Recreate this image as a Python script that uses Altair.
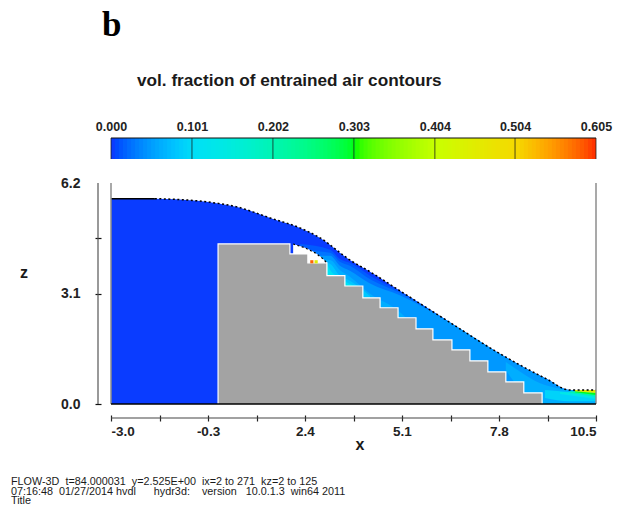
import altair as alt
import pandas as pd

FONT = "Liberation Sans"

# free surface of the flow
surface_x = [-3.0, -1.78, -0.61, 0.03, 0.51, 0.95, 1.43, 2.26, 2.82, 3.65, 4.21, 5.13, 6.43, 7.74, 9.13, 9.77, 10.5]
surface_z = [5.76, 5.76, 5.70, 5.62, 5.53, 5.39, 5.22, 4.94, 4.66, 4.04, 3.71, 3.12, 2.29, 1.46, 0.70, 0.39, 0.39]

# stepped chute (solid obstacle)
bed_x = [-0.02, 1.98, 2.48, 3.01, 3.51, 4.01, 4.49, 4.99, 5.49, 5.96, 6.49, 6.99, 7.49, 7.99, 8.49, 9.0]
bed_z = [4.49, 4.21, 3.96, 3.60, 3.31, 2.98, 2.70, 2.42, 2.11, 1.80, 1.52, 1.21, 0.90, 0.62, 0.31, 0.0]

# underside of the nappe over the first steps
nappe_x = [2.07, 2.40, 2.68, 2.87, 3.01]
nappe_z = [4.49, 4.38, 4.24, 4.10, 3.96]

# contours: entrained-air fraction, top edge of region at or above that value
contour_values = [0.012, 0.025, 0.045, 0.06, 0.08, 0.11]
contour_x = [
    [2.26, 3.10, 3.37, 3.65, 4.21, 5.04, 6.43],
    [2.54, 3.10, 3.37, 3.65, 4.21, 5.04, 6.43],
    [2.76, 3.10, 3.37, 3.65, 4.21, 5.04, 6.43, 7.74, 9.13, 9.77, 10.5],
    [2.90, 3.10, 3.37, 3.65, 4.21, 5.04, 5.32],
    [2.98, 3.10, 3.37, 3.65, 4.21],
    [3.00, 3.10, 3.37, 3.65, 3.93],
]
contour_z = [
    [4.49, 4.33, 4.07, 3.96, 3.60, 3.16, 2.29],
    [4.30, 4.24, 3.99, 3.88, 3.50, 3.12, 2.29],
    [4.16, 4.16, 3.88, 3.74, 3.38, 3.05, 2.29, 1.46, 0.70, 0.39, 0.37],
    [4.05, 4.04, 3.76, 3.57, 3.09, 2.58, 2.30],
    [3.96, 3.93, 3.60, 3.46, 3.03],
    [3.96, 3.76, 3.55, 3.37, 3.31],
]

# contour pockets near the streak and the outlet
pocket_values = [0.06, 0.09, 0.13, 0.20, 0.30, 0.45]
pocket_x = [
    [7.99, 8.54, 9.08, 10.5],
    [9.08, 9.77, 10.5],
    [9.50, 10.5],
    [9.77, 10.5],
    [9.91, 10.5],
    [9.91, 10.5],
]
pocket_hi = [
    [1.18, 0.81, 0.53, 0.31],
    [0.39, 0.34, 0.31],
    [0.34, 0.31],
    [0.36, 0.31],
    [0.36, 0.31],
    [0.39, 0.39],
]
pocket_lo = [
    [0.95, 0.25, 0.0, 0.0],
    [0.17, 0.08, 0.08],
    [0.28, 0.14],
    [0.31, 0.20],
    [0.33, 0.25],
    [0.36, 0.31],
]

spot_x = [2.59, 2.71]
spot_z = [3.99, 3.99]
spot_v = [0.58, 0.45]

color_stops = [0.0, 0.05, 0.101, 0.202, 0.303, 0.404, 0.504, 0.605]
color_hex = ["#0a3cff", "#00a0ff", "#00dff5", "#00f5b0", "#00ff00", "#c8ff00", "#f5d800", "#ff2000"]
bar_ticks = [0.0, 0.101, 0.202, 0.303, 0.404, 0.504, 0.605]
bar_edges = [round(i * 0.005, 3) for i in range(121)]

x_ticks = [-3.0, -1.65, -0.3, 1.05, 2.4, 3.75, 5.1, 6.45, 7.8, 9.15, 10.5]
x_labelled = [-3.0, -0.3, 2.4, 5.1, 7.8, 10.5]
z_ticks = [0.0, 3.1, 4.65, 6.2]
footer = [
    "FLOW-3D  t=84.000031  y=2.525E+00  ix=2 to 271  kz=2 to 125".replace(" ", "\u00a0"),
    "07:16:48  01/27/2014 hvdl      hydr3d:    version   10.0.1.3  win64 2011".replace(" ", "\u00a0"),
    "Title",
]

x_scale = alt.Scale(domain=[-3.0, 10.5], nice=False, zero=False)
z_scale = alt.Scale(domain=[0.0, 6.2], nice=False, zero=False)
c_scale = alt.Scale(domain=color_stops, range=color_hex, clamp=True)
X = alt.X("x:Q", scale=x_scale, axis=None)
Y = alt.Y("z:Q", scale=z_scale, axis=None)
C = alt.Color("v:Q", scale=c_scale, legend=None)


def band(xs, hi, lo, v):
    df = pd.DataFrame({"x": xs, "z": hi, "z0": lo, "v": [v] * len(xs)})
    return alt.Chart(df).mark_area(orient="vertical", interpolate="monotone").encode(
        x=X, y=Y, y2="z0:Q", color=C
    )


layers = [band(surface_x, surface_z, [0.0] * len(surface_x), 0.0)]
for xs, zs, v in zip(contour_x, contour_z, contour_values):
    layers.append(band(xs, zs, [0.0] * len(xs), v))
for xs, hi, lo, v in zip(pocket_x, pocket_hi, pocket_lo, pocket_values):
    layers.append(band(xs, hi, lo, v))

# air cavity below the nappe
nappe_df = pd.DataFrame({"x": nappe_x, "z": nappe_z, "z0": [3.0] * len(nappe_x)})
layers.append(
    alt.Chart(nappe_df).mark_area(orient="vertical", color="white", interpolate="monotone").encode(x=X, y=Y, y2="z0:Q")
)
# solid obstacle
bed_df = pd.DataFrame({"x": bed_x, "z": bed_z, "z0": [0.0] * len(bed_x)})
layers.append(
    alt.Chart(bed_df).mark_area(orient="vertical", color="#a3a3a3", interpolate="step-after").encode(x=X, y=Y, y2="z0:Q")
)
edge_df = pd.DataFrame({"x": [bed_x[0]] + bed_x, "z": [0.0] + bed_z, "i": list(range(len(bed_x) + 1))})
layers.append(
    alt.Chart(edge_df).mark_line(color="white", strokeWidth=1.2, interpolate="step-after").encode(x=X, y=Y, order="i:Q")
)
spot_df = pd.DataFrame({"x": spot_x, "z": spot_z, "v": spot_v})
layers.append(alt.Chart(spot_df).mark_square(size=10, opacity=1).encode(x=X, y=Y, color=C))

# contour outlines
surf_df = pd.DataFrame({"x": surface_x, "z": surface_z})
layers.append(
    alt.Chart(surf_df.iloc[1:]).mark_line(color="black", strokeWidth=1.5, strokeDash=[2, 2.5], interpolate="monotone").encode(x=X, y=Y)
)
layers.append(alt.Chart(surf_df.iloc[:2]).mark_line(color="black", strokeWidth=1.5).encode(x=X, y=Y))
layers.append(
    alt.Chart(pd.DataFrame({"x": nappe_x, "z": nappe_z})).mark_line(color="black", strokeWidth=1.2, strokeDash=[2, 2.5]).encode(x=X, y=Y)
)

# frame
frame = alt.Chart(pd.DataFrame({"x": [-3.0, 10.5], "z": [0.0, 0.0], "z1": [6.2, 6.2]}))
layers.append(frame.mark_rule(color="#8c8c8c", strokeWidth=1.5).encode(x=X, y=Y, y2="z1:Q"))
base_line = alt.Chart(pd.DataFrame({"x": [-3.0], "x1": [10.5], "z": [0.0]}))
layers.append(base_line.mark_rule(color="black", strokeWidth=1.5).encode(x=X, x2="x1:Q", y=Y))

# detached axis lines
layers.append(
    base_line.mark_rule(color="#444444", strokeWidth=1.2).encode(x=X, x2="x1:Q", y=alt.value(235))
)
layers.append(
    alt.Chart(pd.DataFrame({"z": [0.0], "z1": [6.2]})).mark_rule(color="#555555", strokeWidth=1.2).encode(
        x=alt.value(-13), y=Y, y2="z1:Q"
    )
)

# axes with ticks only
x_axis_layer = alt.Chart(pd.DataFrame({"x": x_ticks})).mark_point(opacity=0).encode(
    x=alt.X(
        "x:Q",
        scale=x_scale,
        title=None,
        axis=alt.Axis(
            values=x_ticks,
            offset=11,
            domain=False,
            grid=False,
            tickSize=6,
            tickWidth=1.2,
            tickColor="#222222",
            labelFlush=True,
            labelFontSize=13.5,
            labelFont=FONT,
            labelFontWeight="bold",
            labelColor="#222222",
            labelPadding=3,
            labelExpr="indexof(" + str(x_labelled) + ", datum.value) >= 0 ? "
            "replace(format(datum.value, '.1f'), '\u2212', '-') : ''",
        ),
    )
)
z_axis_layer = alt.Chart(pd.DataFrame({"z": z_ticks})).mark_point(opacity=0).encode(
    y=alt.Y(
        "z:Q",
        scale=z_scale,
        title=None,
        axis=alt.Axis(
            values=z_ticks,
            format=".1f",
            offset=10,
            domain=False,
            grid=False,
            tickSize=6,
            tickWidth=1.2,
            tickColor="#111111",
            tickOpacity={"condition": {"test": "datum.value > 6", "value": 0}, "value": 1},
            labelFontSize=14,
            labelFont=FONT,
            labelFontWeight="bold",
            labelColor="#222222",
            labelPadding=15,
            labelExpr="datum.value == 4.65 ? '' : datum.label",
        ),
    )
)
layers += [x_axis_layer, z_axis_layer]


def label(text, px, py, size, weight="normal", font=FONT, align="left", color="#1a1a1a"):
    return alt.Chart(pd.DataFrame({"t": [text]})).mark_text(
        font=font, fontSize=size, fontWeight=weight, align=align, baseline="middle", color=color
    ).encode(text="t:N", x=alt.value(px - 111), y=alt.value(py - 183))


layers += [
    label("b", 102, 25, 35, "bold", "Liberation Serif", color="black"),
    label("vol. fraction of entrained air contours", 137, 81, 17.2, "bold"),
    label("x", 360, 445, 16, "bold", align="center"),
    label("z", 24, 273, 16, "bold", align="center"),
    label(footer[0], 11, 482, 10.8),
    label(footer[1], 11, 492, 10.8),
    label(footer[2], 11, 501, 10.8),
]

# colour bar with its own horizontal scale
bar_scale = alt.Scale(domain=[0.0, 0.605], nice=False, zero=False)
bar_df = pd.DataFrame({"v": bar_edges})
bar_df["v1"] = (bar_df["v"] + 0.008).clip(upper=0.605)
bar_rects = alt.Chart(bar_df).mark_rect().encode(
    x=alt.X(
        "v:Q",
        scale=bar_scale,
        title=None,
        axis=alt.Axis(
            orient="top",
            values=bar_ticks,
            format=".3f",
            offset=45,
            domain=False,
            grid=False,
            ticks=False,
            labelFontSize=12.5,
            labelFont=FONT,
            labelFontWeight="bold",
            labelColor="#222222",
            labelPadding=5,
            labelFlush=False,
        ),
    ),
    x2="v1:Q",
    y=alt.value(-45),
    y2=alt.value(-24),
    color=C,
)
bar_rules = alt.Chart(pd.DataFrame({"v": bar_ticks})).mark_rule(color="#1a1a1a", strokeWidth=1, opacity=0.75).encode(
    x=alt.X("v:Q", scale=bar_scale, axis=None), y=alt.value(-45), y2=alt.value(-24)
)
bar_top = alt.Chart(pd.DataFrame({"v": [0.0], "v1": [0.605]})).mark_rule(color="#111111", strokeWidth=1).encode(
    x=alt.X("v:Q", scale=bar_scale, axis=None), x2="v1:Q", y=alt.value(-45)
)
layers += [bar_rects, bar_rules, bar_top]

chart = (
    alt.layer(*layers)
    .resolve_scale(x="independent", y="independent")
    .properties(
        width=485,
        height=221,
        autosize=alt.AutoSizeParams(type="none"),
        padding={"left": 103, "top": 175, "right": 21, "bottom": 104},
        background="white",
    )
    .configure_view(stroke=None)
)
chart.save("out.html", embed_options={"renderer": "svg", "actions": False})
